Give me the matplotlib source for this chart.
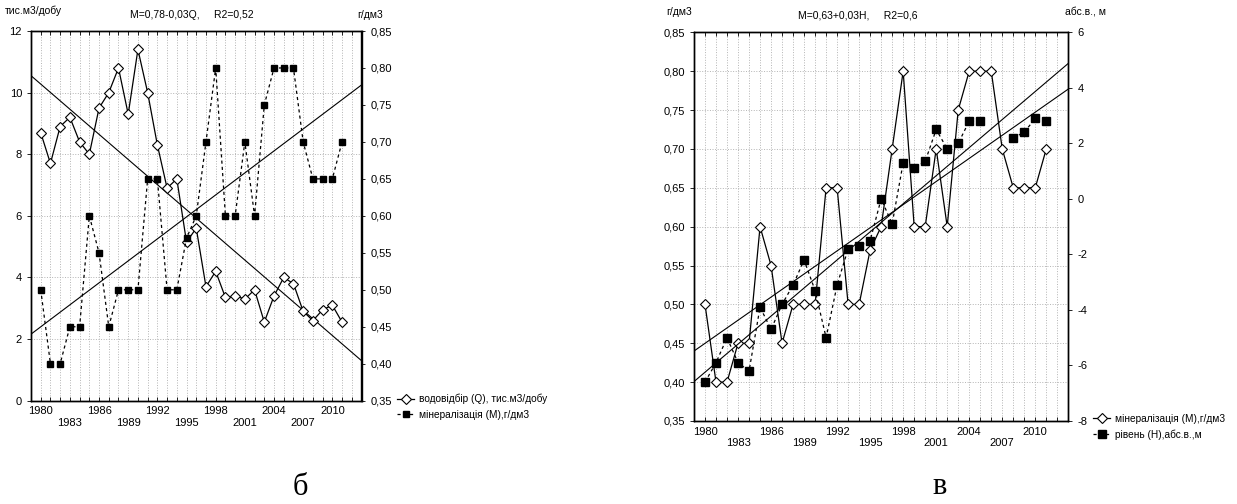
import numpy as np
import matplotlib
matplotlib.use("Agg")
from matplotlib import pyplot as plt
from matplotlib.lines import Line2D

plt.rcParams["font.family"] = ["Liberation Sans", "DejaVu Sans"]

years = np.arange(1980, 2012)

# водовідбір Q, тис.м3/добу
water_q = [8.7, 7.7, 8.9, 9.2, 8.4, 8.0, 9.5, 10.0, 10.8, 9.3, 11.4, 10.0, 8.3, 6.9, 7.2,
           5.15, 5.6, 3.7, 4.2, 3.35, 3.4, 3.3, 3.6, 2.55, 3.4, 4.0, 3.8, 2.9, 2.6, 2.95, 3.1, 2.55]
# мінералізація M, г/дм3
mineral_m = [0.50, 0.40, 0.40, 0.45, 0.45, 0.60, 0.55, 0.45, 0.50, 0.50, 0.50, 0.65, 0.65, 0.50, 0.50,
             0.57, 0.60, 0.70, 0.80, 0.60, 0.60, 0.70, 0.60, 0.75, 0.80, 0.80, 0.80, 0.70, 0.65, 0.65, 0.65, 0.70]
# рівень H, абс.в., м (no data 2006-2007)
level_h = [-6.6, -5.9, -5.0, -5.9, -6.2, -3.9, -4.7, -3.8, -3.1, -2.2, -3.3, -5.0, -3.1, -1.8, -1.7,
           -1.5, 0.0, -0.9, 1.3, 1.1, 1.35, 2.5, 1.8, 2.0, 2.8, 2.8, np.nan, np.nan, 2.2, 2.4, 2.9, 2.8]

# regression lines read at the plot edges
trend_x = [1979, 2013]
trend_q = [10.55, 1.3]
trend_m = [0.44, 0.777]
trend_h = [-6.58, 4.88]

W, H = 1237, 504


def fx(px):
    return px / W


def fy(py):
    return 1 - py / H


def comma(v, nd=2):
    return f"{v:.{nd}f}".replace(".", ",")


def style_x(ax, label_pad):
    ax.set_xlim(1979, 2013)
    major = list(range(1980, 2011, 3))
    ax.set_xticks(major)
    ax.set_xticklabels([str(y) if i % 2 == 0 else "\n" + str(y) for i, y in enumerate(major)])
    ax.set_xticks(range(1979, 2014), minor=True)
    ax.tick_params(axis="x", which="both", direction="in", top=True, length=3,
                   labelsize=8, pad=label_pad, width=0.6)
    ax.grid(True, which="both", axis="x", linestyle=":", color="#b4b4b4", linewidth=0.7)


fig = plt.figure(figsize=(W / 100, H / 100), dpi=100)

q_style = dict(color="black", linewidth=0.9, marker="D", markersize=4.6,
               markerfacecolor="white", markeredgecolor="black", markeredgewidth=0.8)
m_sq_style = dict(color="black", linewidth=0.9, linestyle=(0, (2.5, 2.5)), marker="s",
                  markersize=4.6, markerfacecolor="black", markeredgecolor="black")

# ---------- panel б ----------
ax1 = fig.add_axes([fx(31), fy(400.7), fx(361.5) - fx(31), fy(31) - fy(400.7)])
ax1r = ax1.twinx()

ax1.plot(years, water_q, zorder=4, **q_style)
ax1.plot(trend_x, trend_q, color="black", linewidth=0.8, zorder=3)
ax1.set_ylim(0, 12)
ax1.set_yticks(range(0, 13, 2))
ax1.tick_params(axis="y", direction="out", length=3, labelsize=8, width=0.6)
ax1.grid(True, which="major", axis="y", linestyle=":", color="#b4b4b4", linewidth=0.7)
style_x(ax1, 4)

ax1r.plot(years, mineral_m, zorder=4, **m_sq_style)
ax1r.plot(trend_x, trend_m, color="black", linewidth=0.8, zorder=3)
ax1r.set_ylim(0.35, 0.85)
m_ticks = np.arange(0.35, 0.851, 0.05)
ax1r.set_yticks(m_ticks)
ax1r.set_yticklabels([comma(v) for v in m_ticks])
ax1r.tick_params(axis="y", direction="out", length=3, labelsize=8, width=0.6)
ax1r.set_xlim(1979, 2013)

fig.text(fx(5), fy(11), "тис.м3/добу", fontsize=7.5, va="center", ha="left")
fig.text(fx(130), fy(15), "M=0,78-0,03Q,     R2=0,52", fontsize=7.5, va="center", ha="left")
fig.text(fx(357), fy(15), "г/дм3", fontsize=7.5, va="center", ha="left")

h1 = [Line2D([], [], **q_style), Line2D([], [], **m_sq_style)]
fig.legend(h1, ["водовідбір (Q), тис.м3/добу", "мінералізація (М),г/дм3"],
           loc="upper left", bbox_to_anchor=(fx(397), fy(394)), frameon=False,
           fontsize=7.3, handlelength=1.7, handletextpad=0.5, labelspacing=0.5,
           borderpad=0, borderaxespad=0)

fig.text(fx(300), fy(495), "б", family="Liberation Serif", fontsize=22, ha="center", va="baseline")

# ---------- panel в ----------
ax2 = fig.add_axes([fx(694), fy(421), fx(1068.3) - fx(694), fy(32.3) - fy(421)])
ax2r = ax2.twinx()

ax2.plot(years, mineral_m, zorder=4, **q_style)
ax2.plot(trend_x, trend_m, color="black", linewidth=0.8, zorder=3)
ax2.set_ylim(0.35, 0.85)
ax2.set_yticks(m_ticks)
ax2.set_yticklabels([comma(v) for v in m_ticks])
ax2.tick_params(axis="y", direction="out", length=3, labelsize=8, width=0.6)
ax2.grid(True, which="major", axis="y", linestyle=":", color="#b4b4b4", linewidth=0.7)
style_x(ax2, 4)

h_sq_style = dict(m_sq_style, markersize=5.2)
ax2r.plot(years, level_h, zorder=4, **h_sq_style)
ax2r.plot(trend_x, trend_h, color="black", linewidth=0.8, zorder=3)
ax2r.set_ylim(-8, 6)
h_ticks = list(range(-8, 7, 2))
ax2r.set_yticks(h_ticks)
ax2r.set_yticklabels([str(v) for v in h_ticks])
ax2r.tick_params(axis="y", direction="out", length=3, labelsize=8, width=0.6)
ax2r.set_xlim(1979, 2013)

fig.text(fx(666), fy(12), "г/дм3", fontsize=7.5, va="center", ha="left")
fig.text(fx(798), fy(15), "M=0,63+0,03H,     R2=0,6", fontsize=7.5, va="center", ha="left")
fig.text(fx(1065), fy(12), "абс.в., м", fontsize=7.5, va="center", ha="left")

h2 = [Line2D([], [], **q_style), Line2D([], [], **h_sq_style)]
fig.legend(h2, ["мінералізація (М),г/дм3", "рівень (Н),абс.в.,м"],
           loc="upper left", bbox_to_anchor=(fx(1093), fy(414)), frameon=False,
           fontsize=7.3, handlelength=1.7, handletextpad=0.5, labelspacing=0.5,
           borderpad=0, borderaxespad=0)

fig.text(fx(940), fy(494), "в", family="Liberation Serif", fontsize=22, ha="center", va="baseline")

for a in (ax1, ax1r, ax2, ax2r):
    for s in a.spines.values():
        s.set_linewidth(1.0)
        s.set_color("black")

fig.savefig("out.png", dpi=100)
